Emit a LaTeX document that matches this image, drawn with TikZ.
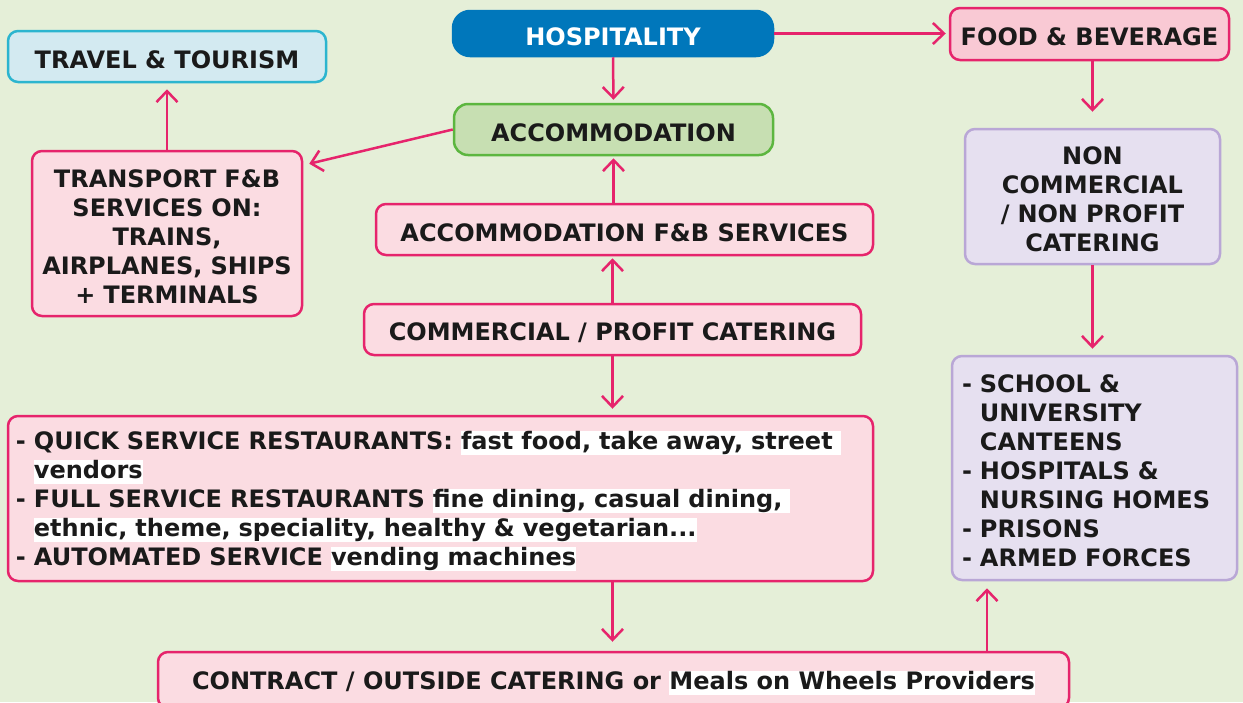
\documentclass[tikz,border=0pt]{standalone}
\usepackage{fontspec}
\setmainfont{DejaVu Sans}
\usetikzlibrary{arrows.meta}

\definecolor{bg}{HTML}{E5EFD8}
\definecolor{fbline}{HTML}{E6246C}
\definecolor{fbfill}{HTML}{F9C9D4}
\definecolor{pinkfill}{HTML}{FBDCE2}
\definecolor{travelfill}{HTML}{D3EAF1}
\definecolor{travelline}{HTML}{2CB5CF}
\definecolor{hospfill}{HTML}{0077BB}
\definecolor{accfill}{HTML}{C7DFB2}
\definecolor{accline}{HTML}{5CB63F}
\definecolor{ncfill}{HTML}{E6E0F0}
\definecolor{ncline}{HTML}{B9A7D6}
\definecolor{ink}{HTML}{1A1A1A}

% white marker behind the plain-language examples
\newcommand\hl[1]{{\setlength\fboxsep{0pt}\colorbox{white}{\rule[-5pt]{0pt}{23.5pt}#1}}}
\newcommand\ind{\phantom{-~}}
% taller first line, so the text sits a little low in its box
\newcommand\lift{\rule{0pt}{24pt}}

\tikzset{
  box/.style={draw=fbline, fill=pinkfill, line width=2.5pt, rounded corners=10pt,
    text=ink, align=center, inner sep=0pt, font=\fontsize{24}{29}\selectfont\bfseries,
    execute at begin node=\lift},
  link/.style={draw=fbline, line width=2.5pt, -{Straight Barb[length=11pt,width=21pt]}},
}

\begin{document}
\begin{tikzpicture}[x=1pt,y=-1pt]
\useasboundingbox (0,0) rectangle (1243,702);
\fill[bg] (0,0) rectangle (1243,702);

\node[box, fill=hospfill, draw=hospfill, text=white, rounded corners=17pt,
  minimum width=320pt, minimum height=45pt] (hosp) at (613,33.5) {HOSPITALITY};
\node[box, fill=fbfill, minimum width=279pt, minimum height=52pt] (food) at (1089.5,34) {FOOD \& BEVERAGE};
\node[box, fill=travelfill, draw=travelline, minimum width=318pt, minimum height=51pt] (travel) at (167,56.5) {TRAVEL \& TOURISM};
\node[box, fill=accfill, draw=accline, rounded corners=14pt, minimum width=319pt, minimum height=51pt] (accom) at (613.5,129.5) {ACCOMMODATION};
\node[box, text width=254pt, inner xsep=8pt, minimum height=165pt] (transport) at (167,233.5)
  {TRANSPORT F\&B\\SERVICES ON:\\TRAINS,\\AIRPLANES, SHIPS\\+ TERMINALS};
\node[box, minimum width=497pt, minimum height=51pt] (accfb) at (624.5,229.5) {ACCOMMODATION F\&B SERVICES};
\node[box, minimum width=497pt, minimum height=51pt] (comm) at (612.5,329.5) {COMMERCIAL / PROFIT CATERING};
\node[box, fill=ncfill, draw=ncline, text width=239pt, inner xsep=8pt, minimum height=135pt] (noncomm) at (1092.5,196.5)
  {NON\\COMMERCIAL\\/ NON PROFIT\\CATERING};
\node[box, fill=ncfill, draw=ncline, align=left, text width=265pt, inner xsep=10pt,
  minimum height=224pt] (inst) at (1094.5,468)
  {- SCHOOL \&\\\ind UNIVERSITY\\\ind CANTEENS\\- HOSPITALS \&\\\ind NURSING HOMES\\- PRISONS\\- ARMED FORCES};
\node[box, align=left, text width=849pt, inner xsep=8pt, minimum height=165pt] (venues) at (440.5,498.5)
  {- QUICK SERVICE RESTAURANTS: \hl{fast food, take away, street }\\
   \ind\hl{vendors}\\
   - FULL SERVICE RESTAURANTS \hl{fine dining, casual dining, }\\
   \ind\hl{ethnic, theme, speciality, healthy \& vegetarian...}\\
   - AUTOMATED SERVICE \hl{vending machines}};
\node[box, minimum width=911pt, minimum height=56pt] (contract) at (613.5,680)
  {CONTRACT / OUTSIDE CATERING or \hl{Meals on Wheels Providers}};

\coordinate (riser) at (987,620);

\draw[link, shorten >=3pt] (hosp.east) -- (food.west |- hosp.east);
\draw[link, shorten >=3pt] (hosp.south) -- (accom.north);
\draw[link] (accom.west) -- ([shift={(6,14)}]transport.north east);
\draw[link, shorten >=6pt] (transport.north) -- (travel.south -| transport.north);
\draw[link, shorten >=2pt] (accfb.north -| accom.south) -- (accom.south);
\draw[link, shorten >=2pt] (comm.north) -- (accfb.south -| comm.north);
\draw[link, shorten >=6pt] (comm.south) -- (venues.north -| comm.south);
\draw[link, shorten >=9pt] (venues.south -| comm.south) -- (contract.north -| comm.south);
\draw[link, shorten >=7pt] (contract.north -| riser) -- (inst.south -| riser);
\draw[link, shorten >=16pt] (food.south -| noncomm.north) -- (noncomm.north);
\draw[link, shorten >=6pt] (noncomm.south) -- (inst.north -| noncomm.south);
\end{tikzpicture}
\end{document}
